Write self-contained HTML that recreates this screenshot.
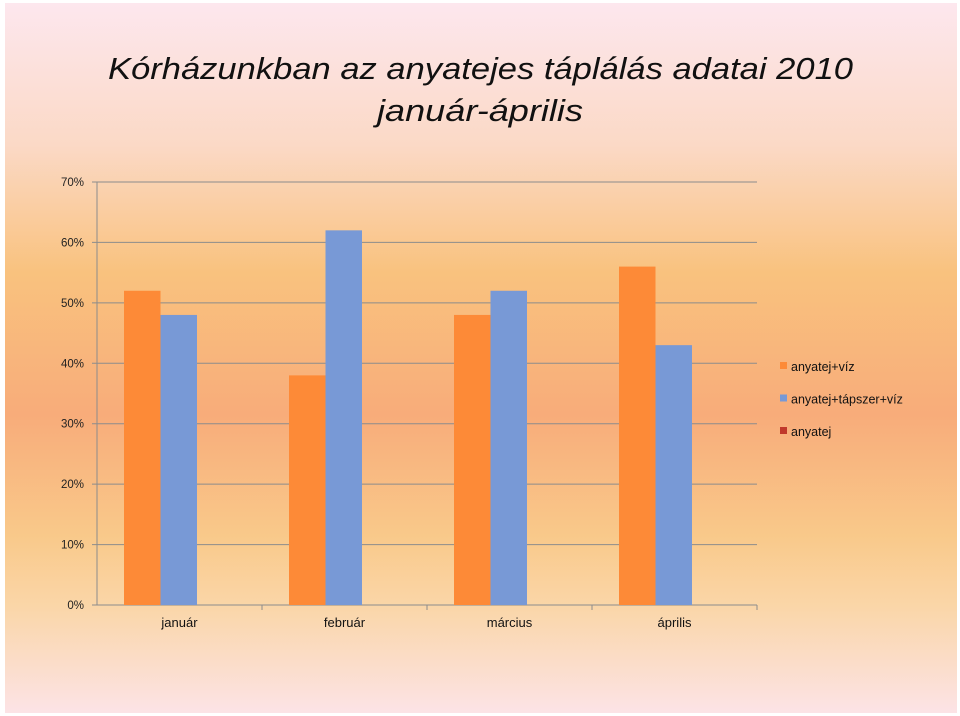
<!DOCTYPE html>
<html><head><meta charset="utf-8"><style>
body{margin:0;width:960px;height:716px;overflow:hidden;background:#fff;font-family:"Liberation Sans",sans-serif}
#bg{position:absolute;left:5px;top:3px;width:952px;height:710px;background:linear-gradient(to bottom,#fde7ee 0%,#fbd9c6 20%,#f9c27e 38%,#f8ac7a 58%,#f9c98a 75%,#fad6a8 85%,#fce3e6 100%)}
svg{position:absolute;left:0;top:0}
</style></head><body>
<div id="bg"></div>
<svg width="960" height="716" id="chart">
<text x="108" y="79" textLength="745" lengthAdjust="spacingAndGlyphs" font-size="31" font-style="italic" fill="#111">Kórházunkban az anyatejes táplálás adatai 2010</text>
<text x="377" y="121" textLength="206" lengthAdjust="spacingAndGlyphs" font-size="31" font-style="italic" fill="#111">január-április</text>
<g id="grid"></g><g id="bars"></g><g id="axes"></g><g id="legend"></g>
</svg>
<script>
const categories=["január","február","március","április"];
const seriesNames=["anyatej+víz","anyatej+tápszer+víz","anyatej"];
const s1=[52,38,48,56];
const s2=[48,62,52,43];
const s3=[0,0,0,0];
const yTicks=[0,10,20,30,40,50,60,70];
const colors=["#fd8a37","#7899d6","#c0392b"];
const NS="http://www.w3.org/2000/svg";
const x0=97,x1=757,y0=605,y70=182;
const y=v=>y0-(v/70)*(y0-y70);
const cw=(x1-x0)/categories.length;
function mk(t,a,p){const e=document.createElementNS(NS,t);for(const k in a)e.setAttribute(k,a[k]);p.appendChild(e);return e;}
const grid=document.getElementById('grid'),bars=document.getElementById('bars'),axes=document.getElementById('axes'),leg=document.getElementById('legend');
yTicks.forEach(v=>{
 const l=mk('line',{x1:x0-5,x2:x1,y1:y(v),y2:y(v),stroke:'#8c8c8c','stroke-width':1},grid);
 
 
 const t=mk('text',{x:84,y:y(v)+4,'text-anchor':'end','font-size':11.5,fill:'#222'},axes);
 t.textContent=v+'%';
 
 
});
const al=mk('line',{x1:x0,x2:x0,y1:y70,y2:y0,stroke:'#8c8c8c'},axes);


const series=[s1,s2,s3];const bw=36.5;
categories.forEach((c,i)=>{
 const cx=x0+i*cw;
 series.forEach((s,j)=>{
  if(s[i]<=0)return;
  const r=mk('rect',{x:cx+27+j*bw,y:y(s[i]),width:bw,height:y0-y(s[i]),fill:colors[j]},bars);
  
  
 });
 const tk=mk('line',{x1:cx+cw,x2:cx+cw,y1:y0,y2:y0+5,stroke:'#8c8c8c'},axes);
 
 
 const t=mk('text',{x:cx+cw/2,y:627,'text-anchor':'middle','font-size':13,fill:'#111'},axes);
 t.textContent=c;
 
 
});
seriesNames.forEach((n,j)=>{
 const ly=362+j*32.5;
 const r=mk('rect',{x:780,y:ly,width:7,height:7,fill:colors[j]},leg);
 
 
 const t=mk('text',{x:791,y:ly+9,'font-size':12.5,fill:'#111'},leg);
 t.textContent=n;
 
 
});
</script>
</body></html>
